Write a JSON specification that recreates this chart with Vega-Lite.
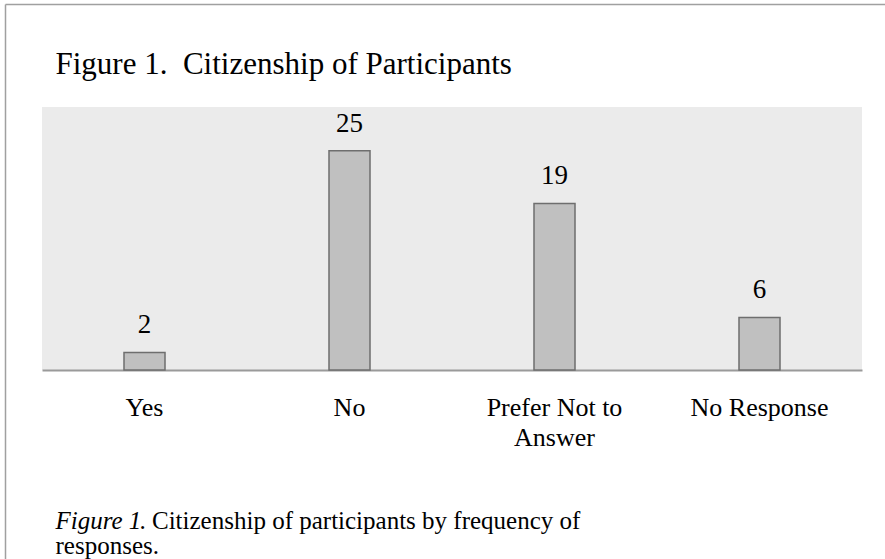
{
  "$schema": "https://vega.github.io/schema/vega-lite/v6.json",
  "width": 820,
  "height": 263,
  "autosize": "none",
  "padding": {"left": 42, "top": 107, "right": 23, "bottom": 189},
  "background": "white",
  "config": {
    "view": {"fill": "#ebebeb", "stroke": null},
    "font": "Liberation Serif"
  },
  "data": {
    "values": [
      {"response": "Yes", "count": 2},
      {"response": "No", "count": 25},
      {"response": "Prefer Not to Answer", "count": 19},
      {"response": "No Response", "count": 6}
    ]
  },
  "layer": [
    {
      "encoding": {
        "x": {
          "field": "response",
          "type": "nominal",
          "sort": null,
          "scale": {"paddingInner": 0.8, "paddingOuter": 0.4},
          "axis": {
            "title": "Figure 1",
            "titleFont": "Liberation Serif",
            "titleFontStyle": "italic",
            "titleFontWeight": "normal",
            "titleFontSize": 25,
            "titleColor": "black",
            "titleX": 13,
            "titleY": 158,
            "titleAlign": "left",
            "titleBaseline": "alphabetic",
            "labelAngle": 0,
            "labelFont": "Liberation Serif",
            "labelFontSize": 26,
            "labelColor": "black",
            "labelBaseline": "alphabetic",
            "labelPadding": 45,
            "labelLineHeight": 30,
            "labelExpr": "datum.label == 'Prefer Not to Answer' ? ['Prefer Not to', 'Answer'] : datum.label",
            "ticks": false,
            "domainColor": "#9a9a9a",
            "domainWidth": 2
          }
        }
      },
      "layer": [
        {
          "mark": {"type": "bar", "fill": "#c0c0c0", "stroke": "#6e6e6e", "strokeWidth": 1.5},
          "encoding": {
            "y": {
              "field": "count",
              "type": "quantitative",
              "scale": {"domain": [0, 30]},
              "axis": {
                "title": ". Citizenship of participants by frequency of",
                "titleFont": "Liberation Serif",
                "titleFontWeight": "normal",
                "titleFontSize": 25,
                "titleColor": "black",
                "titleAngle": 0,
                "titleX": 97,
                "titleY": 421,
                "titleAlign": "left",
                "titleBaseline": "alphabetic",
                "labels": false,
                "ticks": false,
                "domain": false,
                "grid": false
              }
            }
          }
        },
        {
          "mark": {"type": "text", "baseline": "alphabetic", "dy": -19, "fontSize": 27, "font": "Liberation Serif", "color": "black"},
          "encoding": {
            "y": {
              "field": "count",
              "type": "quantitative",
              "scale": {"domain": [0, 30]},
              "axis": {
                "orient": "right",
                "title": "responses.",
                "titleFont": "Liberation Serif",
                "titleFontWeight": "normal",
                "titleFontSize": 25,
                "titleColor": "black",
                "titleAngle": 0,
                "titleX": -807,
                "titleY": 446,
                "titleAlign": "left",
                "titleBaseline": "alphabetic",
                "labels": false,
                "ticks": false,
                "domain": false,
                "grid": false
              }
            },
            "text": {"field": "count", "type": "quantitative"}
          }
        }
      ],
      "resolve": {"scale": {"y": "independent"}}
    },
    {
      "mark": {"type": "point", "opacity": 0},
      "encoding": {
        "x": {
          "field": "response",
          "type": "nominal",
          "sort": null,
          "scale": {"range": [-37, 843]},
          "axis": {
            "orient": "top",
            "offset": 103,
            "title": "Figure 1.\u00a0 Citizenship of Participants",
            "titleFont": "Liberation Serif",
            "titleFontWeight": "normal",
            "titleFontSize": 31,
            "titleColor": "black",
            "titleX": 13,
            "titleY": 69,
            "titleAlign": "left",
            "titleBaseline": "alphabetic",
            "labels": false,
            "ticks": false,
            "grid": false,
            "domainColor": "#a0a0a0",
            "domainWidth": 1.5
          }
        },
        "y": {
          "field": "count",
          "type": "quantitative",
          "scale": {"domain": [0, 30], "range": [452, -103]},
          "axis": {
            "orient": "left",
            "offset": 37,
            "title": null,
            "labels": false,
            "ticks": false,
            "grid": false,
            "domainColor": "#a0a0a0",
            "domainWidth": 1.5
          }
        }
      }
    }
  ],
  "resolve": {"scale": {"x": "independent", "y": "independent"}}
}
